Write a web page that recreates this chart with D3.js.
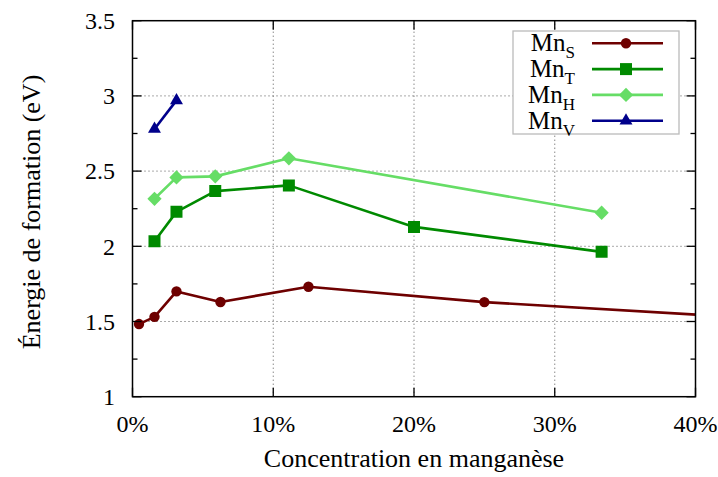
<!DOCTYPE html>
<html>
<head>
<meta charset="utf-8">
<script src="https://cdn.jsdelivr.net/npm/d3@7"></script>
<style>
  html, body { margin: 0; padding: 0; background: #fff; }
  svg { display: block; }
  svg text { font-family: "Liberation Serif", "Times New Roman", serif; }
</style>
</head>
<body>
<svg id="chart" width="718" height="477"></svg>
<script>
// Formation energy of Mn substitutions / interstitials versus Mn concentration
const seriesNames = ["S", "T", "H", "V"];
const mnS_x = [0.463, 1.5625, 3.125, 6.25, 12.5, 25, 50];
const mnS_y = [1.483, 1.531, 1.70, 1.63, 1.731, 1.629, 1.49];
const mnT_x = [1.5625, 3.125, 5.88, 11.11, 20, 33.33];
const mnT_y = [2.033, 2.229, 2.367, 2.405, 2.129, 1.963];
const mnH_x = [1.5625, 3.125, 5.88, 11.11, 33.33];
const mnH_y = [2.316, 2.458, 2.465, 2.585, 2.223];
const mnV_x = [1.5625, 3.125];
const mnV_y = [2.78, 2.97];
const xTicks = [0, 10, 20, 30, 40];
const yTicks = [1, 1.5, 2, 2.5, 3, 3.5];

const colors = ["#6e0000", "#008a00", "#66dd66", "#00008b"];
const markers = ["circle", "square", "diamond", "triangle"];

const svg = d3.select("#chart");
const mLeft = 132.5, mRight = 695.5, mTop = 20.7, mBottom = 396.7;

const x = d3.scaleLinear().domain([0, 40]).range([mLeft, mRight]);
const y = d3.scaleLinear().domain([1, 3.5]).range([mBottom, mTop]);

// dotted grid
const grid = svg.append("g");
xTicks.slice(1, -1).forEach(t => {
  grid.append("line").attr("x1", x(t)).attr("x2", x(t)).attr("y1", mBottom).attr("y2", mTop)
    .attr("stroke", "#555").attr("stroke-width", 1).attr("stroke-dasharray", "1,3");
});
yTicks.slice(1, -1).forEach(t => {
  grid.append("line").attr("x1", mLeft).attr("x2", mRight).attr("y1", y(t)).attr("y2", y(t))
    .attr("stroke", "#555").attr("stroke-width", 1).attr("stroke-dasharray", "1,3");
});

// clip region for the data
svg.append("clipPath").attr("id", "plotclip").append("rect")
  .attr("x", mLeft).attr("y", mTop).attr("width", mRight - mLeft).attr("height", mBottom - mTop);

const seriesData = [
  mnS_x.map((v, i) => [v, mnS_y[i]]),
  mnT_x.map((v, i) => [v, mnT_y[i]]),
  mnH_x.map((v, i) => [v, mnH_y[i]]),
  mnV_x.map((v, i) => [v, mnV_y[i]])
];

function markerPath(type) {
  const sym = { circle: d3.symbolCircle, square: d3.symbolSquare, diamond: d3.symbolDiamond2, triangle: d3.symbolTriangle2 }[type];
  const size = { circle: 85, square: 144, diamond: 130, triangle: 120 }[type];
  return d3.symbol().type(sym).size(size)();
}

const line = d3.line().x(d => x(d[0])).y(d => y(d[1]));
const plot = svg.append("g").attr("clip-path", "url(#plotclip)");
seriesData.forEach((data, i) => {
  plot.append("path").datum(data).attr("d", line).attr("fill", "none")
    .attr("stroke", colors[i]).attr("stroke-width", 2.6).attr("stroke-linejoin", "round");
});
seriesData.forEach((data, i) => {
  plot.selectAll(null).data(data.filter(d => d[0] <= 40)).enter().append("path")
    .attr("d", markerPath(markers[i]))
    .attr("transform", d => `translate(${x(d[0])},${y(d[1])})`)
    .attr("fill", colors[i]);
});

// frame
svg.append("rect").attr("x", mLeft).attr("y", mTop).attr("width", mRight - mLeft).attr("height", mBottom - mTop)
  .attr("fill", "none").attr("stroke", "#000").attr("stroke-width", 1.5);

// ticks (inward, mirrored)
const tickG = svg.append("g").attr("stroke", "#000").attr("stroke-width", 1.3);
xTicks.forEach(t => {
  tickG.append("line").attr("x1", x(t)).attr("x2", x(t)).attr("y1", mBottom).attr("y2", mBottom - 9);
  tickG.append("line").attr("x1", x(t)).attr("x2", x(t)).attr("y1", mTop).attr("y2", mTop + 9);
});
d3.range(1, 3.51, 0.25).forEach(t => {
  const major = Math.abs(t * 2 - Math.round(t * 2)) < 1e-6;
  const len = major ? 9 : 5;
  tickG.append("line").attr("x1", mLeft).attr("x2", mLeft + len).attr("y1", y(t)).attr("y2", y(t));
  tickG.append("line").attr("x1", mRight).attr("x2", mRight - len).attr("y1", y(t)).attr("y2", y(t));
});

// tick labels
svg.append("g").selectAll("text").data(xTicks).enter().append("text")
  .attr("x", d => x(d)).attr("y", 431.5).attr("text-anchor", "middle")
  .attr("font-size", 24).text(d => d + "%");
svg.append("g").selectAll("text").data(yTicks).enter().append("text")
  .attr("x", 115).attr("y", d => y(d) + 8.3).attr("text-anchor", "end")
  .attr("font-size", 24).text(d => d);

// axis titles
svg.append("text").attr("x", x(20)).attr("y", 467).attr("text-anchor", "middle")
  .attr("font-size", 26).text("Concentration en manganèse");
svg.append("text").attr("transform", "translate(40,212) rotate(-90)")
  .attr("text-anchor", "middle").attr("font-size", 26).text("Énergie de formation (eV)");

// legend
const leg = svg.append("g");
leg.append("rect").attr("x", 513).attr("y", 31).attr("width", 166).attr("height", 103)
  .attr("fill", "#fff").attr("stroke", "#bbb").attr("stroke-width", 1.3);
seriesNames.forEach((name, i) => {
  const ry = 43.3 + i * 25.8;
  const t = leg.append("text").attr("x", 575).attr("y", ry + 8).attr("text-anchor", "end").attr("font-size", 25);
  t.append("tspan").text("Mn");
  t.append("tspan").attr("font-size", 17).attr("dy", 7).text(name);
  leg.append("line").attr("x1", 592).attr("x2", 663).attr("y1", ry).attr("y2", ry)
    .attr("stroke", colors[i]).attr("stroke-width", 2.6);
  leg.append("path").attr("d", markerPath(markers[i]))
    .attr("transform", `translate(626,${ry})`).attr("fill", colors[i]);
});
</script>
</body>
</html>
